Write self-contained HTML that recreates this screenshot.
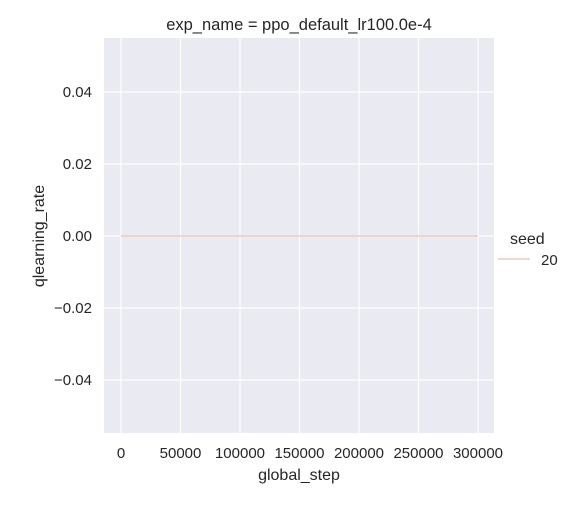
<!DOCTYPE html>
<html><head><meta charset="utf-8">
<style>
body{margin:0;background:#fff;}
svg text{font-family:"Liberation Sans","DejaVu Sans",sans-serif;fill:#262626;}
</style></head>
<body>
<svg id="chart" width="571" height="500" viewBox="0 0 571 500" xmlns="http://www.w3.org/2000/svg">
<rect x="104" y="38" width="390" height="395" fill="#eaeaf2"/>
<g id="grid"></g>
<g id="ticks"></g>
<g id="series"></g>
<text x="299" y="30" font-size="16.5" text-anchor="middle">exp_name = ppo_default_lr100.0e-4</text>
<text x="299" y="480" font-size="16" text-anchor="middle">global_step</text>
<text transform="translate(44,236) rotate(-90)" font-size="16" text-anchor="middle">qlearning_rate</text>
<g>
<text x="510" y="244" font-size="16">seed</text>
<line x1="498" y1="259" x2="530" y2="259" stroke="#f0c9b9" stroke-width="1.5"/>
<text x="541" y="265" font-size="15">20</text>
</g>
</svg>
<script>
const xTicks=[0,50000,100000,150000,200000,250000,300000];
const yTicks=[-0.04,-0.02,0.00,0.02,0.04];
const yTickLabels=["\u22120.04","\u22120.02","0.00","0.02","0.04"];
const seriesX=[0,300000];
const seriesY=[0,0];
const NS="http://www.w3.org/2000/svg";
function xs(v){return 121+v*(478-121)/300000;}
function ys(v){return 236-v*72/0.02;}
const grid=document.getElementById('grid'),ticks=document.getElementById('ticks'),ser=document.getElementById('series');
function mk(tag,attrs,parent){const e=document.createElementNS(NS,tag);for(const k in attrs)e.setAttribute(k,attrs[k]);parent.appendChild(e);return e;}
xTicks.forEach(v=>{
  const l=mk('line',{x1:xs(v),x2:xs(v),y1:38,y2:433,stroke:'#fff','stroke-width':1.2},grid);
  
  
  const t=mk('text',{x:xs(v),y:458,'font-size':15,'text-anchor':'middle'},ticks);
  t.textContent=String(v);
  
  
});
yTicks.forEach((v,i)=>{
  const l=mk('line',{x1:104,x2:494,y1:ys(v),y2:ys(v),stroke:'#fff','stroke-width':1.2},grid);
  
  
  const t=mk('text',{x:92,y:ys(v)+5,'font-size':15,'text-anchor':'end'},ticks);
  t.textContent=yTickLabels[i];
  
  
});
const pts=seriesX.map((x,i)=>xs(x)+','+ys(seriesY[i])).join(' ');
const pl=mk('polyline',{points:pts,fill:'none',stroke:'#f0c9b9','stroke-width':1.5},ser);


</script>
</body></html>
